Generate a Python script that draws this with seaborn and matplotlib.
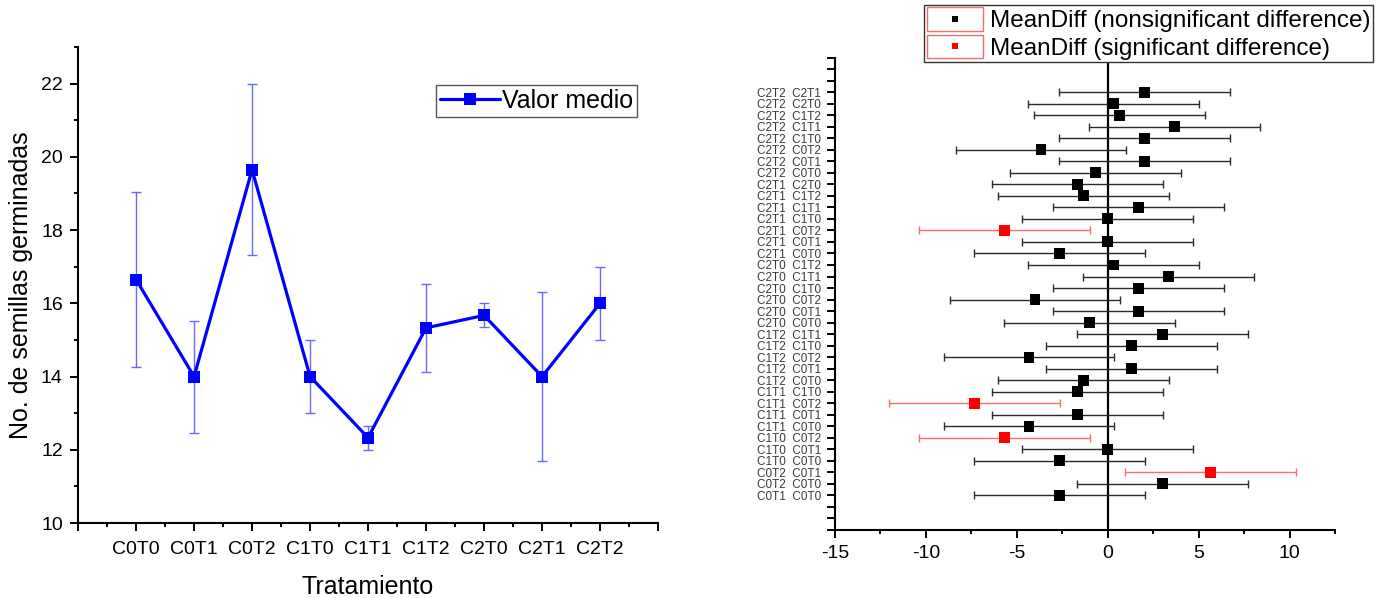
import numpy as np
import pandas as pd
import matplotlib
matplotlib.use("Agg")
import matplotlib.pyplot as plt
import seaborn as sns
from matplotlib.legend_handler import HandlerBase
from matplotlib.patches import Rectangle
from matplotlib.lines import Line2D
from matplotlib.ticker import MultipleLocator

# ---------------- data ----------------
treatments = ['C0T0', 'C0T1', 'C0T2', 'C1T0', 'C1T1', 'C1T2', 'C2T0', 'C2T1', 'C2T2']
mean_values = [16.65, 14.0, 19.65, 14.0, 12.33, 15.33, 15.67, 14.0, 16.0]
err_values = [2.4, 1.53, 2.33, 1.0, 0.33, 1.2, 0.33, 2.3, 1.0]

pair_labels = ['C2T2  C2T1', 'C2T2  C2T0', 'C2T2  C1T2', 'C2T2  C1T1', 'C2T2  C1T0',
               'C2T2  C0T2', 'C2T2  C0T1', 'C2T2  C0T0', 'C2T1  C2T0', 'C2T1  C1T2',
               'C2T1  C1T1', 'C2T1  C1T0', 'C2T1  C0T2', 'C2T1  C0T1', 'C2T1  C0T0',
               'C2T0  C1T2', 'C2T0  C1T1', 'C2T0  C1T0', 'C2T0  C0T2', 'C2T0  C0T1',
               'C2T0  C0T0', 'C1T2  C1T1', 'C1T2  C1T0', 'C1T2  C0T2', 'C1T2  C0T1',
               'C1T2  C0T0', 'C1T1  C1T0', 'C1T1  C0T2', 'C1T1  C0T1', 'C1T1  C0T0',
               'C1T0  C0T2', 'C1T0  C0T1', 'C1T0  C0T0', 'C0T2  C0T1', 'C0T2  C0T0',
               'C0T1  C0T0']
mean_diff = [2.0, 0.33, 0.67, 3.67, 2.0, -3.67, 2.0, -0.67, -1.67, -1.33,
             1.67, 0.0, -5.67, 0.0, -2.67, 0.33, 3.33, 1.67, -4.0, 1.67,
             -1.0, 3.0, 1.33, -4.33, 1.33, -1.33, -1.67, -7.33, -1.67, -4.33,
             -5.67, 0.0, -2.67, 5.67, 3.0, -2.67]
ci_lower = [-2.7, -4.37, -4.03, -1.03, -2.7, -8.37, -2.7, -5.37, -6.37, -6.03,
            -3.03, -4.7, -10.37, -4.7, -7.37, -4.37, -1.37, -3.03, -8.7, -3.03,
            -5.7, -1.7, -3.37, -9.03, -3.37, -6.03, -6.37, -12.03, -6.37, -9.03,
            -10.37, -4.7, -7.37, 0.97, -1.7, -7.37]
ci_upper = [6.7, 5.03, 5.37, 8.37, 6.7, 1.03, 6.7, 4.03, 3.03, 3.37,
            6.37, 4.7, -0.97, 4.7, 2.03, 5.03, 8.03, 6.37, 0.7, 6.37,
            3.7, 7.7, 6.03, 0.37, 6.03, 3.37, 3.03, -2.63, 3.03, 0.37,
            -0.97, 4.7, 2.03, 10.37, 7.7, 2.03]
significant = [False, False, False, False, False, False, False, False, False, False,
               False, False, True, False, False, False, False, False, False, False,
               False, False, False, False, False, False, False, True, False, False,
               True, False, False, True, False, False]

lbl_ns = 'MeanDiff (nonsignificant difference)'
lbl_s = 'MeanDiff (significant difference)'

# ---------------- style ----------------
sns.set_style('ticks')
plt.rcParams['font.family'] = ['Liberation Sans', 'DejaVu Sans']
plt.rcParams['axes.unicode_minus'] = False
plt.rcParams['text.color'] = 'black'
plt.rcParams['axes.labelcolor'] = 'black'
plt.rcParams['xtick.color'] = 'black'
plt.rcParams['ytick.color'] = 'black'

fig = plt.figure(figsize=(13.79, 5.98), dpi=100)
ax1 = fig.add_axes([0.0566, 0.1254, 0.4206, 0.796])
ax2 = fig.add_axes([0.6055, 0.1137, 0.3626, 0.790])

# ---------------- left chart ----------------
df1 = pd.DataFrame({'pos': np.arange(1, len(treatments) + 1),
                    'mean': mean_values, 'err': err_values})
ax1.errorbar(df1['pos'], df1['mean'], yerr=df1['err'], fmt='none',
             ecolor='#6a6aff', elinewidth=1.0, capsize=3.5, capthick=1.0, zorder=2)
sns.lineplot(data=df1, x='pos', y='mean', ax=ax1, color='#0000ff', lw=2.3,
             marker='s', markersize=8.5, markeredgewidth=0, label='Valor medio', zorder=3)

ax1.set_xlim(0, 10)
ax1.set_ylim(10, 23)
ax1.set_xticks(range(0, 11))
ax1.set_xticklabels([''] + treatments + [''])
ax1.xaxis.set_minor_locator(MultipleLocator(0.5))
ax1.set_yticks(range(10, 23, 2))
ax1.yaxis.set_minor_locator(MultipleLocator(1))
ax1.tick_params(which='major', length=6, width=1.4, direction='out', labelsize=14, colors='black')
ax1.tick_params(axis='x', which='major', pad=7)
ax1.tick_params(axis='y', which='major', pad=5)
ax1.tick_params(which='minor', length=3, width=1.4, direction='out')
for s in ['top', 'right']:
    ax1.spines[s].set_visible(False)
for s in ['left', 'bottom']:
    ax1.spines[s].set_linewidth(1.5)
    ax1.spines[s].set_color('black')
ax1.set_xlabel('Tratamiento', fontsize=18, labelpad=12, color='black')
ax1.set_ylabel('No. de semillas germinadas', fontsize=18, labelpad=6, color='black')
leg1 = ax1.legend(loc='upper right', bbox_to_anchor=(0.964, 0.92), fontsize=18,
                  handlelength=2.4, handletextpad=0.1, borderpad=0.15, borderaxespad=0,
                  fancybox=False, edgecolor='#555555', framealpha=1)
leg1.get_frame().set_linewidth(1.0)

# ---------------- right chart ----------------
n2 = len(pair_labels)
df2 = pd.DataFrame({'pair': pair_labels, 'pos': np.arange(n2, 0, -1),
                    'diff': mean_diff, 'low': ci_lower, 'high': ci_upper,
                    'group': [lbl_s if s else lbl_ns for s in significant]})
bar_colors = {lbl_ns: '#2a2a2a', lbl_s: '#ff6a6a'}
pt_colors = {lbl_ns: '#000000', lbl_s: '#ff0000'}
for g, sub in df2.groupby('group'):
    ax2.errorbar(sub['diff'], sub['pos'],
                 xerr=[sub['diff'] - sub['low'], sub['high'] - sub['diff']],
                 fmt='none', ecolor=bar_colors[g], elinewidth=1.0,
                 capsize=3, capthick=1.0, zorder=2)
sns.scatterplot(data=df2, x='diff', y='pos', hue='group', palette=pt_colors,
                marker='s', s=62, linewidth=0, ax=ax2, legend=False, zorder=3)
ax2.axvline(0, color='black', lw=1.6, zorder=1)

ax2.set_xlim(-15, 12.5)
ax2.set_ylim(-2, 39)
ax2.set_xticks(range(-15, 11, 5))
ax2.xaxis.set_minor_locator(MultipleLocator(2.5))
pos_to_label = dict(zip(df2['pos'], df2['pair']))
yt = list(range(-2, 40))
ax2.set_yticks(yt)
ax2.set_yticklabels([pos_to_label.get(p, '') for p in yt])
ax2.tick_params(axis='x', which='major', length=6, width=1.4, labelsize=14, pad=5, colors='black')
ax2.tick_params(axis='x', which='minor', length=3, width=1.4)
ax2.tick_params(axis='y', which='major', length=6, width=1.4, labelsize=8.5, pad=4,
                labelcolor='#3a3a3a', color='black')
for s in ['top', 'right']:
    ax2.spines[s].set_visible(False)
for s in ['left', 'bottom']:
    ax2.spines[s].set_linewidth(1.5)
    ax2.spines[s].set_color('black')
ax2.set_xlabel('')
ax2.set_ylabel('')


class BoxedMarker(HandlerBase):
    def create_artists(self, legend, orig_handle, xdescent, ydescent, width, height,
                       fontsize, trans):
        rect = Rectangle((-xdescent, -ydescent), width, height, fill=False,
                         edgecolor='#e87070', lw=1.0, transform=trans)
        mk = Line2D([-xdescent + width / 2], [-ydescent + height / 2], ls='none',
                    marker='s', color=orig_handle.get_color(),
                    markersize=orig_handle.get_markersize(), markeredgewidth=0,
                    transform=trans)
        return [rect, mk]


handles = [Line2D([], [], ls='none', marker='s', color=pt_colors[lbl_ns], markersize=5),
           Line2D([], [], ls='none', marker='s', color=pt_colors[lbl_s], markersize=5)]
leg2 = fig.legend(handles, [lbl_ns, lbl_s], handler_map={Line2D: BoxedMarker()},
                  loc='upper right', bbox_to_anchor=(1373 / 1379, 1 - 5 / 598),
                  bbox_transform=fig.transFigure, fontsize=17.5, handlelength=2.3,
                  handleheight=1.1, labelspacing=0.1, borderpad=0.1, handletextpad=0.3,
                  borderaxespad=0, fancybox=False, edgecolor='#333333', framealpha=1)
leg2.get_frame().set_linewidth(1.0)
for t in leg2.get_texts() + leg1.get_texts():
    t.set_color('black')

fig.savefig('out.png', dpi=100)
